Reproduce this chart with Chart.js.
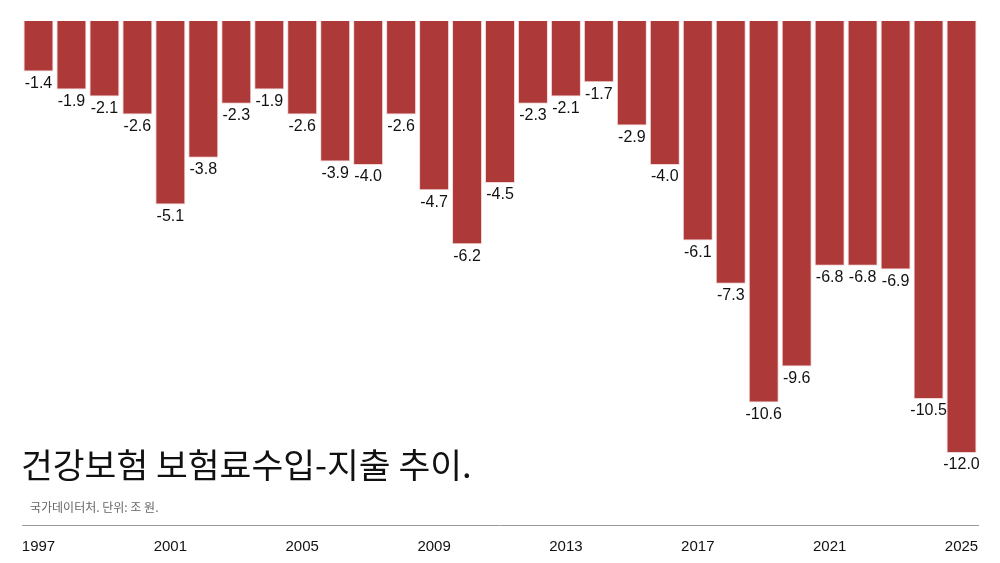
<!DOCTYPE html>
<html>
<head>
<meta charset="utf-8">
<script src="https://cdn.jsdelivr.net/npm/chart.js@4"></script>
<style>
    html, body { margin: 0; padding: 0; background: #fff; }
    #wrap { position: relative; width: 1000px; height: 563px; }
    #title {
        position: absolute; left: 21px; top: 441px;
        font-family: "Noto Sans CJK KR", sans-serif; font-size: 34.6px; color: #111;
        line-height: 44px; white-space: nowrap;
    }
    #source {
        position: absolute; left: 30px; top: 499px;
        font-family: "Noto Sans CJK KR", sans-serif; font-size: 12px; color: #666;
        line-height: 16px; white-space: nowrap;
    }
</style>
</head>
<body>
<div id="wrap">
    <canvas id="HEALTH_INSURANCE_CHART" width="1000" height="563"></canvas>
    <div id="title">건강보험 보험료수입-지출 추이.</div>
    <div id="source">국가데이터처. 단위: 조 원.</div>
</div>
<script>
// 연도 (1997 ~ 2025)
const years = ['1997', '1998', '1999', '2000', '2001', '2002', '2003', '2004', '2005', '2006',
    '2007', '2008', '2009', '2010', '2011', '2012', '2013', '2014', '2015', '2016',
    '2017', '2018', '2019', '2020', '2021', '2022', '2023', '2024', '2025'];
// 보험료수입 - 지출 (조 원)
const balance = [-1.4, -1.9, -2.1, -2.6, -5.1, -3.8, -2.3, -1.9, -2.6, -3.9,
    -4.0, -2.6, -4.7, -6.2, -4.5, -2.3, -2.1, -1.7, -2.9, -4.0,
    -6.1, -7.3, -10.6, -9.6, -6.8, -6.8, -6.9, -10.5, -12.0];
// x축에 보이는 연도
const tickYears = ['1997', '2001', '2005', '2009', '2013', '2017', '2021', '2025'];

// 막대 끝 아래에 값 표시
const valueLabels = {
    id: 'valueLabels',
    afterDatasetsDraw(chart) {
        const ctx = chart.ctx;
        const meta = chart.getDatasetMeta(0);
        ctx.save();
        ctx.font = '16px "Liberation Sans", Arial, sans-serif';
        ctx.fillStyle = '#111';
        ctx.textAlign = 'center';
        ctx.textBaseline = 'middle';
        meta.data.forEach((bar, i) => {
            ctx.fillText(balance[i].toFixed(1), bar.x, bar.y + 12);
        });
        ctx.restore();
    }
};

let healthInsuranceChart = new Chart(document.getElementById("HEALTH_INSURANCE_CHART").getContext("2d"), {
    type: 'bar',
    data: {
        labels: years,
        datasets: [{
            data: balance,
            backgroundColor: '#ad3a39',
            borderColor: '#f2d6d6',
            borderWidth: 1,
            barPercentage: 0.91,
            categoryPercentage: 1.0
        }]
    },
    options: {
        responsive: false,
        animation: false,
        layout: {
            padding: { left: 22, right: 22, top: 21, bottom: 10 }
        },
        plugins: {
            legend: { display: false },
            tooltip: { enabled: false }
        },
        scales: {
            x: {
                offset: true,
                afterFit: function (scale) {
                    scale.height = 28;
                },
                grid: { display: false, drawTicks: false },
                border: { display: true, color: '#9a9a9a', width: 1 },
                ticks: {
                    autoSkip: false,
                    maxRotation: 0,
                    padding: 13,
                    color: '#111',
                    font: { family: '"Liberation Sans", Arial, sans-serif', size: 15 },
                    callback: function (value) {
                        const y = this.getLabelForValue(value);
                        return tickYears.includes(y) ? y : '';
                    }
                }
            },
            y: {
                display: false,
                min: -14,
                max: 0
            }
        }
    },
    plugins: [valueLabels]
});
</script>
</body>
</html>
